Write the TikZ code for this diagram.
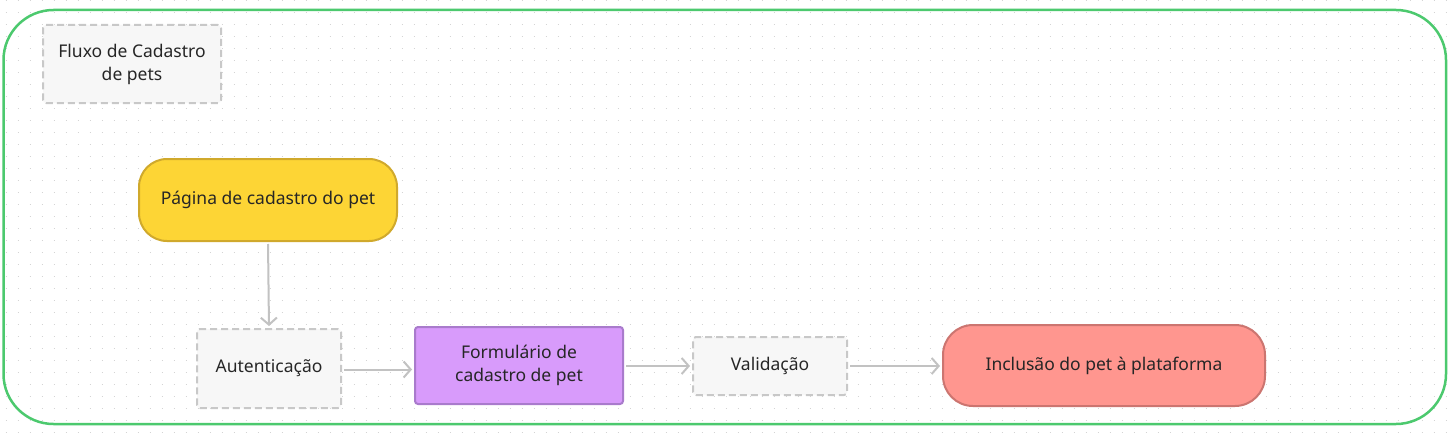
\documentclass[tikz,border=0pt]{standalone}
\usepackage{fontspec}
\setmainfont{Noto Sans}
\usetikzlibrary{arrows.meta}
\definecolor{txt}{HTML}{262626}
\definecolor{dotc}{HTML}{D4D4D4}
\definecolor{grn}{HTML}{4CC96E}
\definecolor{dashc}{HTML}{C8C8C8}
\definecolor{boxfill}{HTML}{F7F7F7}
\definecolor{yelfill}{HTML}{FDD535}
\definecolor{yeldraw}{HTML}{D0A92C}
\definecolor{purfill}{HTML}{D89BFB}
\definecolor{purdraw}{HTML}{A97BCC}
\definecolor{redfill}{HTML}{FF968F}
\definecolor{reddraw}{HTML}{CC7570}
\definecolor{arrc}{HTML}{C2C2C2}
\tikzset{
  lbl/.style={font=\fontsize{17.5}{23}\selectfont, text=txt, align=center, inner sep=0pt},
  dashbox/.style={lbl, draw=dashc, fill=boxfill, line width=2pt, dash pattern=on 7pt off 4pt, rounded corners=3pt},
  yelbox/.style={lbl, draw=yeldraw, fill=yelfill, line width=2pt, rounded corners=28pt},
  purbox/.style={lbl, draw=purdraw, fill=purfill, line width=2pt, rounded corners=3pt},
  redbox/.style={lbl, draw=reddraw, fill=redfill, line width=2pt, rounded corners=30pt},
  flow/.style={draw=arrc, line width=2pt, -{Straight Barb[length=7pt,width=16pt,line width=2pt]}, shorten >=2pt, shorten <=2pt},
}
\begin{document}
\begin{tikzpicture}[x=1pt,y=-1pt]
\useasboundingbox (0,0) rectangle (1451,436);
\fill[white] (0,0) rectangle (1451,436);
% dot grid
\foreach \r in {0,...,36} {
  \draw[dotc, line width=1.3pt, dash pattern=on 1.3pt off 10.7pt, dash phase=-5.7pt]
    (0,{0.7+12*\r}) -- (1451,{0.7+12*\r});
}
% outer frame
\draw[grn, line width=2.5pt, rounded corners=50pt] (3.5,10) rectangle (1446,424);
% nodes
\node[dashbox, minimum width=178pt, minimum height=78pt] (title) at (132,64) {Fluxo de Cadastro\\de pets};
\node[yelbox, minimum width=258pt, minimum height=82pt] (pagina) at (268,200) {Página de cadastro do pet};
\node[dashbox, minimum width=144pt, minimum height=79pt] (autent) at (269,368.5) {Autenticação};
\node[purbox, minimum width=208pt, minimum height=77pt] (form) at (519,365.5) {Formulário de\\cadastro de pet};
\node[dashbox, minimum width=154pt, minimum height=58pt] (valid) at (770,366) {Validação};
\node[redbox, minimum width=322pt, minimum height=81pt] (incl) at (1104,365.5) {Inclusão do pet à plataforma};
% connectors
\draw[flow] (pagina.south) -- (autent.north);
\draw[flow] ([yshift=-1pt]autent.east) -- ([yshift=-1pt]autent.east -| form.west);
\draw[flow] (form.east |- valid.west) -- (valid.west);
\draw[flow] (valid.east) -- (valid.east -| incl.west);
\end{tikzpicture}
\end{document}
